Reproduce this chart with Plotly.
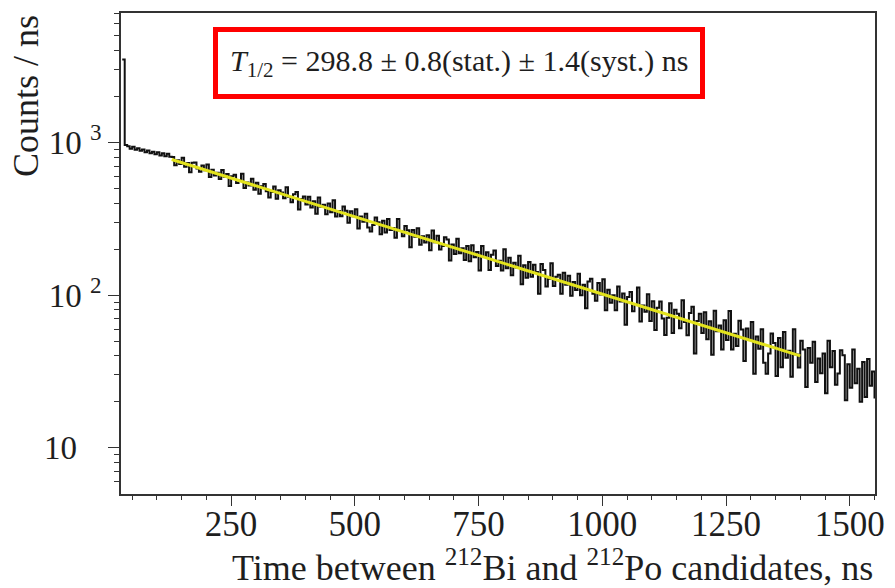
import plotly.graph_objects as go

bin_start = 30
bin_width = 5
counts = [
    3500, 965, 945, 912, 938, 898, 918, 884, 902, 864,
    888, 850, 872, 838, 864, 824, 852, 812, 844, 806,
    803, 711, 765, 724, 796, 695, 735, 638, 738, 741,
    675, 643, 708, 658, 719, 594, 663, 609, 633, 577,
    660, 597, 622, 519, 601, 616, 544, 564, 624, 504,
    548, 523, 580, 490, 546, 462, 518, 535, 479, 436,
    474, 515, 429, 487, 471, 431, 509, 441, 407, 459,
    474, 364, 427, 443, 393, 442, 375, 412, 342, 436,
    380, 391, 339, 398, 350, 418, 328, 356, 329, 381,
    357, 298, 355, 329, 365, 273, 328, 303, 341, 278,
    261, 288, 323, 300, 251, 307, 257, 315, 267, 276,
    238, 315, 263, 243, 284, 266, 206, 267, 241, 274,
    214, 243, 221, 247, 197, 265, 222, 245, 199, 210,
    240, 232, 169, 215, 186, 234, 188, 203, 170, 210,
    167, 212, 177, 192, 145, 210, 178, 191, 146, 184,
    196, 155, 168, 145, 200, 150, 176, 135, 163, 152,
    181, 118, 157, 130, 165, 132, 158, 142, 102, 160,
    146, 114, 128, 162, 115, 132, 136, 102, 140, 117,
    134, 99, 122, 108, 138, 100, 117, 82, 123, 128,
    102, 92, 120, 101, 127, 79.5, 108.5, 89.1, 100, 79.6,
    113.9, 90.8, 102.7, 64.0, 97.4, 104.7, 78.3, 87.4, 112.2, 67.2,
    85.7, 77.8, 101.4, 67.7, 91.2, 59.2, 82.6, 91.0, 70.2, 54.8,
    71.2, 88.6, 56.6, 80.2, 75.4, 60.6, 92.7, 66.7, 54.6, 76.3,
    84.1, 41.4, 67.6, 75.4, 56.4, 77.3, 51.4, 67.5, 40.7, 78.9,
    58.1, 63.3, 44.1, 68.6, 50.8, 78.7, 44.1, 55.8, 46.4, 68.0,
    59.5, 37.0, 60.4, 51.0, 66.6, 30.6, 53.5, 44.5, 59.7, 36.0,
    30.5, 41.4, 56.1, 48.5, 29.5, 52.4, 33.7, 57.4, 38.9, 43.3,
    29.2, 59.8, 40.8, 33.6, 50.3, 44.1, 25.0, 45.1, 36.1, 49.6,
    27.0, 38.5, 30.8, 41.4, 22.8, 50.3, 33.7, 43.1, 25.9, 30.7,
    43.5, 40.4, 20.5, 35.3, 24.7, 44.0, 26.5, 33.0, 20.0, 36.5,
    21.5, 38.2, 25.5, 31.6, 21.0,
]
times = [bin_start + bin_width * i for i in range(len(counts))]

fit_t = [130, 1400]
fit_counts = [774, 40.0]

x_tickvals = [250, 500, 750, 1000, 1250, 1500]
x_ticktext = ["250", "500", "750", "1000", "1250", "1500"]
y_tickvals = [10, 100, 1000]
y_ticktext = ["10\u00a0\u00a0\u00a0", "10 <sup>2</sup>", "10 <sup>3</sup>"]
y_minor = [6, 7, 8, 9, 20, 30, 40, 50, 60, 70, 80, 90,
           200, 300, 400, 500, 600, 700, 800, 900, 2000, 3000, 4000, 5000, 6000, 7000]

label_text = "<i>T</i><sub>1/2</sub> = 298.8 ± 0.8(stat.) ± 1.4(syst.) ns"
x_title = "Time between <sup>212</sup>Bi and <sup>212</sup>Po candidates, ns"
y_title = "Counts / ns"

FONT = "Liberation Serif, Times New Roman, serif"
INK = "#1e1e1e"

fig = go.Figure()
fig.add_trace(go.Scatter(
    x=times, y=counts, mode="lines", line=dict(color="#111111", width=2.0, shape="hv"),
    showlegend=False, hoverinfo="skip"))
fig.add_trace(go.Scatter(
    x=fit_t, y=fit_counts, mode="lines", line=dict(color="#e3e31c", width=3),
    showlegend=False, hoverinfo="skip"))

fig.update_layout(
    width=895, height=588,
    margin=dict(l=121, r=11, t=13, b=94),
    paper_bgcolor="white", plot_bgcolor="white",
    font=dict(family=FONT, color=INK, size=32),
    xaxis=dict(
        range=[27.5, 1551], showgrid=False, zeroline=False,
        showline=True, linecolor="#333333", linewidth=1.5, mirror=True,
        tickvals=x_tickvals, ticktext=x_ticktext,
        ticks="outside", ticklen=10, tickwidth=1.2, tickcolor="#333333",
        ticklabelstandoff=-12,
        tickfont=dict(size=35, family=FONT, color=INK),
        minor=dict(dtick=50, tick0=0, ticks="outside", ticklen=4, tickwidth=1, tickcolor="#333333"),
    ),
    yaxis=dict(
        type="log", range=[0.697, 3.849], showgrid=False, zeroline=False,
        showline=True, linecolor="#333333", linewidth=1.5, mirror=True,
        tickvals=y_tickvals, ticktext=y_ticktext,
        ticks="outside", ticklen=11, tickwidth=1.2, tickcolor="#333333",
        tickfont=dict(size=33, family=FONT, color=INK),
        minor=dict(tickvals=y_minor, ticks="outside", ticklen=5, tickwidth=1, tickcolor="#333333"),
    ),
)

fig.add_annotation(
    text=label_text, xref="paper", yref="paper", x=0.448, y=0.896,
    xanchor="center", yanchor="middle", showarrow=False,
    font=dict(family=FONT, size=30, color=INK),
    bordercolor="#ff0000", borderwidth=5, borderpad=12, bgcolor="white")

fig.add_annotation(
    text=x_title, xref="paper", yref="paper", x=1.0, y=0, yshift=-96,
    xanchor="right", yanchor="bottom", showarrow=False,
    font=dict(family=FONT, size=36, color=INK))

fig.add_annotation(
    text=y_title, xref="paper", yref="paper", x=0, y=1, xshift=-73,
    xanchor="right", yanchor="top", textangle=-90, showarrow=False,
    font=dict(family=FONT, size=36, color=INK))

fig.write_html("out.html")
